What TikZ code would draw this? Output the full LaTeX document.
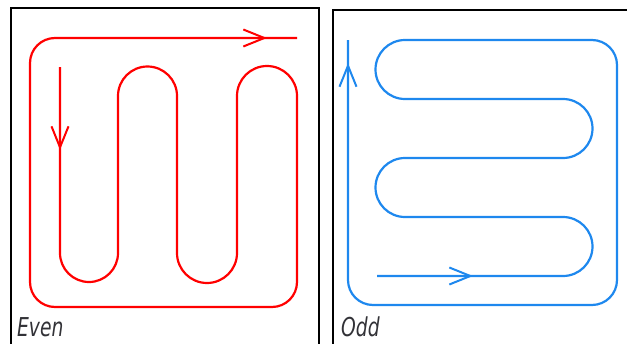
\documentclass[tikz,border=0pt]{standalone}
\usepackage{fontspec}
\newfontfamily\labelfont{DejaVu Sans Condensed}[ItalicFont=* Oblique]
\usetikzlibrary{arrows.meta, decorations.markings}

\definecolor{pathred}{RGB}{255,0,0}
\definecolor{pathblue}{RGB}{30,136,238}
\definecolor{labelgray}{RGB}{50,50,55}

\tikzset{
    frame/.style={draw=black, line width=2pt},
    route/.style={line width=2.2pt, line join=round},
    barb/.tip={Straight Barb[length=21pt, width=17pt]},
    caption/.style={anchor=base west, text=labelgray, font=\labelfont\itshape\fontsize{26}{26}\selectfont, inner sep=0pt, xscale=0.8}
}

\begin{document}
\begin{tikzpicture}[x=1pt, y=-1pt]
    \useasboundingbox (0,0) rectangle (627,343);

    % frames
    \draw[frame] (11,345) -- (11,7.5) -- (319,7.5) -- (319,345);
    \draw[frame] (333,345) -- (333,10) -- (630,10);

    % even route
    \draw[route, draw=pathred, postaction={decorate}, decoration={markings,
        mark=at position 83pt with {\arrow[pathred, line width=2pt]{barb}},
        mark=at position -30pt with {\arrow[pathred, line width=2pt]{barb}}}]
        (60,67) -- (60,253) arc (180:0:29)
        -- (118,96) arc (180:360:29.5)
        -- (177,253) arc (180:0:30)
        -- (237,96) arc (180:360:30)
        -- (297,282) arc (0:90:25)
        -- (55,307) arc (90:180:25)
        -- (30,63) arc (180:270:25)
        -- (297,38);

    % odd route
    \draw[route, draw=pathblue, postaction={decorate}, decoration={markings,
        mark=at position 96pt with {\arrow[pathblue, line width=2pt]{barb}},
        mark=at position -23pt with {\arrow[pathblue, line width=2pt]{barb}}}]
        (377,276) -- (563,276) arc (90:-90:29.5)
        -- (405,217) arc (90:270:29.5)
        -- (563,158) arc (90:-90:29.5)
        -- (405,99) arc (90:270:29.5)
        -- (592,40) arc (-90:0:25)
        -- (617,280) arc (0:90:25)
        -- (373,305) arc (90:180:25)
        -- (348,280) -- (348,40);

    % labels
    \node[caption] (even) at (17,336) {Even};
    \node[caption] (odd) at (341,336) {Odd};
\end{tikzpicture}
\end{document}
